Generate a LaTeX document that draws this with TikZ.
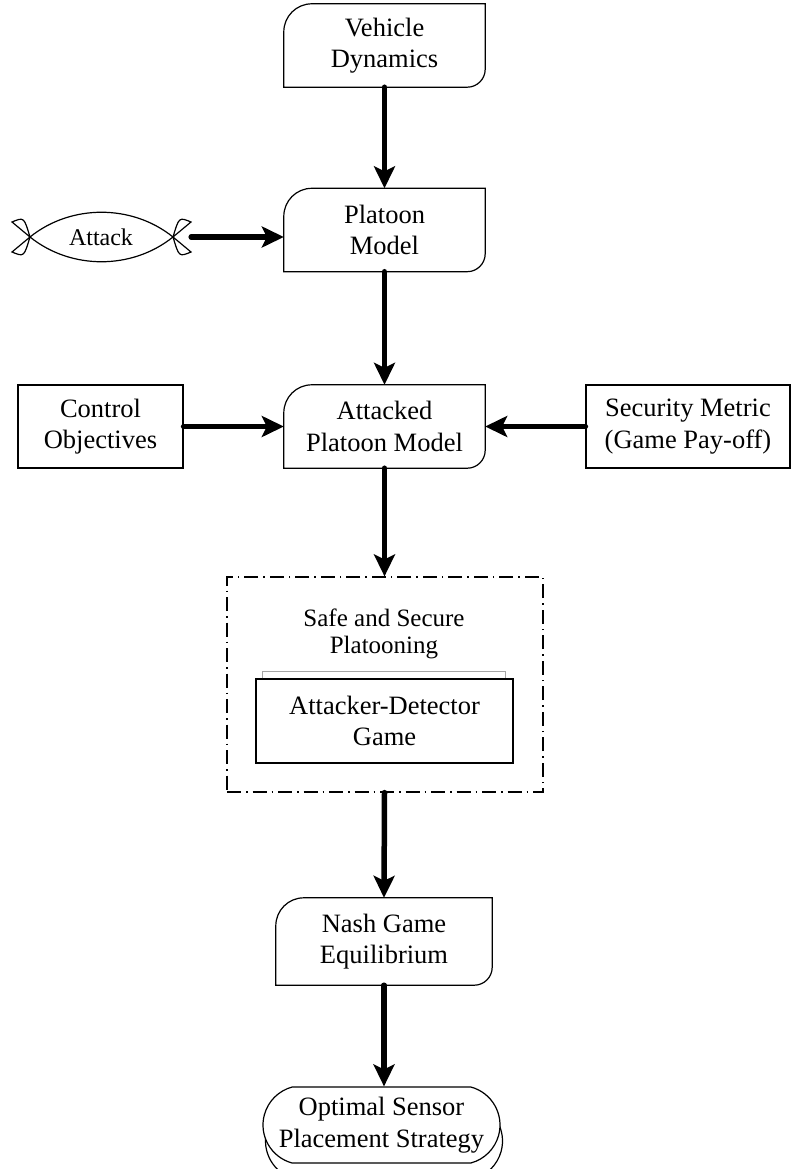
\documentclass[tikz,border=0pt]{standalone}
\usepackage{fontspec}
\setmainfont{Liberation Serif}
\usetikzlibrary{arrows.meta,shapes.misc,calc}

% outline with a rounded top-left and bottom-right corner
\newcommand\tabline[1]{%
  \draw[outline] (#1.south west) -- ($(#1.north west)+(0,-28)$)
    arc[start angle=180,end angle=90,radius=28] -- (#1.north east)
    -- ($(#1.south east)+(0,18)$)
    arc[start angle=0,end angle=-90,radius=18] -- cycle;}

\begin{document}
\begin{tikzpicture}[x=1pt,y=1pt,
  txt/.style={font=\fontsize{26.5}{31.5}\selectfont, align=center, inner sep=0pt},
  outline/.style={line width=1.2pt},
  tabbox/.style={txt, minimum width=201pt, minimum height=83pt},
  plainbox/.style={txt, draw, outline, minimum height=83pt},
  stadium/.style={txt, draw, outline, rounded rectangle, rounded rectangle arc length=150,
    minimum width=237pt, minimum height=76pt, fill=white},
  flow/.style={line width=5.5pt, line cap=round,
    -{Stealth[length=22pt,width=21pt,inset=5pt]}},
  frame/.style={line width=1.2pt, dash pattern=on 14pt off 5pt on 1.5pt off 5pt},
]
\useasboundingbox (0,0) rectangle (792,-1169);

% main chain
\node[tabbox] (vd) at (384.5,-45.5) {Vehicle\\Dynamics};
\tabline{vd}
\node[tabbox] (pm) at (384.5,-230) {Platoon\\Model};
\tabline{pm}
\node[tabbox] (apm) at (384.5,-426.5) {Attacked\\Platoon Model};
\tabline{apm}

% side inputs
\node[plainbox, minimum width=165pt] (co) at (100.5,-426.5) {Control\\Objectives};
\node[plainbox, minimum width=204pt] (sm) at (688,-426.5) {Security Metric\\(Game Pay-off)};

% attack symbol
\node[txt, font=\fontsize{24}{28}\selectfont, minimum width=180pt, minimum height=52pt]
  (att) at (101,-237) {Attack};
\begin{scope}[shift={(att.center)}, outline]
  \draw (-71,0) .. controls (-30,33) and (31,33) .. (72,0);
  \draw (-71,0) .. controls (-30,-33) and (31,-33) .. (72,0);
  % fish tails
  \draw (-71,0) -- (-89,15) .. controls (-77,20) .. (-71,0);
  \draw (-71,0) -- (-89,-15) .. controls (-77,-20) .. (-71,0);
  \draw (72,0) -- (90,15) .. controls (78,20) .. (72,0);
  \draw (72,0) -- (90,-15) .. controls (78,-20) .. (72,0);
\end{scope}

% game frame
\node[draw, frame, minimum width=316pt, minimum height=215pt] (ssp) at (385,-684.5) {};
\node[txt, font=\fontsize{25}{27.5}\selectfont] (title) at (384,-634) {Safe and Secure\\Platooning};
\node[plainbox, minimum width=257pt, minimum height=84pt, fill=white] (adg) at (384.5,-721) {Attacker-Detector\\Game};
\draw[gray!70, line width=1pt] ([xshift=7pt]adg.north west) -- ++(0,7) -| ([xshift=-8pt]adg.north east);

% results
\node[txt, minimum width=216pt, minimum height=87pt] (nash) at (384,-941.5) {Nash Game\\Equilibrium};
\tabline{nash}
\node[stadium] (osp2) at (384,-1141) {};
\node[stadium] (osp) at (381.5,-1125) {Optimal Sensor\\Placement Strategy};

% connectors
\draw[flow] (vd.south) -- (pm.north);
\draw[flow] (att.east) -- (att.east -| pm.west);
\draw[flow] (pm.south) -- (apm.north);
\draw[flow] (co.east) -- (apm.west);
\draw[flow] (sm.west) -- (apm.east);
\draw[flow] (apm.south) -- (apm.south |- ssp.north);
\draw[flow] (apm.south |- ssp.south) -- (nash.north);
\draw[flow] (nash.south) -- (nash.south |- osp.north);
\end{tikzpicture}
\end{document}
